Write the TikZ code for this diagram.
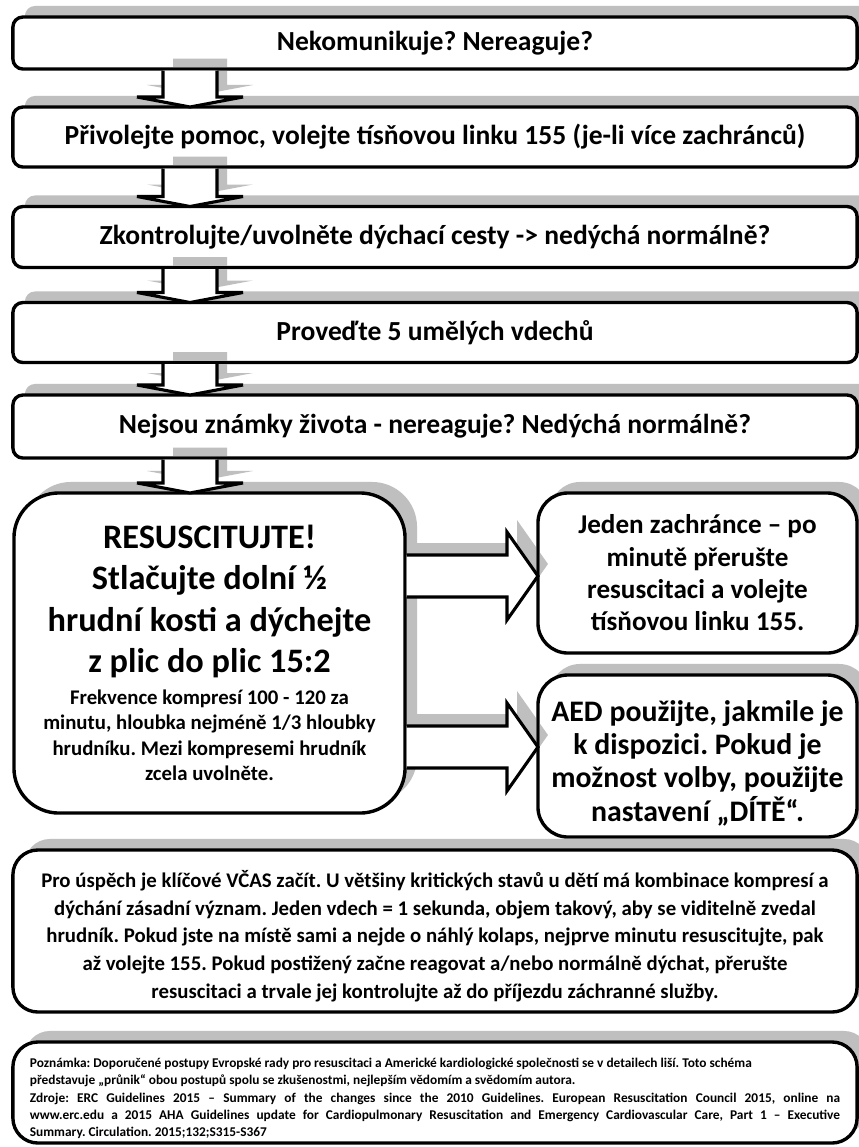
\documentclass[tikz,border=0pt]{standalone}
\usepackage{fontspec}
\setmainfont{Carlito}
\frenchspacing
\usetikzlibrary{positioning,shadows,calc}

% block arrow from box #2 down to box #3
\newcommand{\dropblock}[3][]{%
  \path[#1] ($(163,0 |- #2.south)+(0,1.5)$) -- ($(163,0 |- #3.north)+(0,-10)$) -- ++(-26,0)
    -- (190,0 |- #3.north) -- ($(243,0 |- #3.north)+(0,-10)$) -- ++(-26,0)
    -- ($(217,0 |- #2.south)+(0,1.5)$);}
% block arrow from box #2 right to box #3, centred at height #4
\newcommand{\pushblock}[4][]{%
  \path[#1] ($(#2.east |- 0,#4-21)+(1.5,0)$) -- (507,#4-21) -- (507,#4-44) -- (#3.west |- 0,#4)
    -- (507,#4+44) -- (507,#4+21) -- ($(#2.east |- 0,#4+21)+(1.5,0)$);}

\begin{document}
\begin{tikzpicture}[
    x=0.025cm, y=-0.025cm,
    castshadow/.style={general shadow={shadow xshift=0.3cm, shadow yshift=0.275cm, draw=none, fill=black!25}},
    stepbox/.style={draw, line width=2.4pt, rounded corners=0.25cm, fill=white, castshadow,
      inner sep=0pt, outer sep=0pt, minimum width=21.1cm, align=center,
      font=\bfseries\fontsize{19.6pt}{23pt}\selectfont},
    bigbox/.style={stepbox, rounded corners=1.125cm, minimum width=9.775cm, minimum height=8cm,
      text width=9.6cm, align=flush center, font=\bfseries},
    sidebox/.style={stepbox, rounded corners=0.75cm, minimum width=7.975cm,
      font=\bfseries\fontsize{19.3pt}{23pt}\selectfont},
    notebox/.style={stepbox, rounded corners=0.625cm,
      font=\bfseries\fontsize{14.8pt}{19.8pt}\selectfont},
    blockarrow/.style={draw, fill=white, line width=2.2pt},
    arrowshadow/.style={fill=black!25, blend mode=darken, transform canvas={shift={(10,-12)}}}
  ]
    \useasboundingbox[fill=white] (0,0) rectangle (859,1147);

    \node[stepbox, minimum height=1.3cm] (ask) at (435,43) {Nekomunikuje? Nereaguje?};
    \node[stepbox, minimum height=1.5cm] (call) at (435,137) {Přivolejte pomoc, volejte tísňovou linku 155 (je-li více zachránců)};
    \node[stepbox, minimum height=1.525cm] (airway) at (435,237) {Zkontrolujte/uvolněte dýchací cesty -> nedýchá normálně?};
    \node[stepbox, minimum height=1.5cm] (breaths) at (435,332.5) {Proveďte 5 umělých vdechů};
    \node[stepbox, minimum height=1.575cm] (signs) at (435,426.5) {Nejsou známky života - nereaguje? Nedýchá normálně?};

    \node[bigbox] (cpr) at (209.5,653) {{\fontsize{24.4pt}{29.5pt}\selectfont RESUSCITUJTE!\\ Stlačujte dolní ½\\ hrudní kosti a dýchejte\\ z plic do plic 15:2\par}
      \vspace{4pt}{\fontsize{14.8pt}{18.2pt}\selectfont Frekvence kompresí 100 - 120 za\\ minutu, hloubka nejméně 1/3 hloubky\\ hrudníku. Mezi kompresemi hrudník\\ zcela uvolněte.\par}};
    \node[sidebox, minimum height=4cm] (alone) at (697.5,573) {Jeden zachránce – po\\ minutě přerušte\\ resuscitaci a volejte\\ tísňovou linku 155.};
    \node[sidebox, minimum height=4.05cm, font=\bfseries\fontsize{21.2pt}{23.7pt}\selectfont] (aed) at (697.5,756) {\rule{0pt}{25pt}AED použijte, jakmile je\\ k dispozici. Pokud je\\ možnost volby, použijte\\ nastavení „DÍTĚ“.};

    \node[notebox, minimum height=4.05cm] (hint) at (435,931) {\rule{0pt}{19.5pt}Pro úspěch je klíčové VČAS začít. U většiny kritických stavů u dětí má kombinace kompresí a\\
      dýchání zásadní význam. Jeden vdech = 1 sekunda, objem takový, aby se viditelně zvedal\\
      hrudník.  Pokud jste na místě sami a nejde o náhlý kolaps, nejprve minutu resuscitujte, pak\\
      až volejte 155. Pokud postižený začne reagovat a/nebo normálně dýchat, přerušte\\
      resuscitaci a trvale jej kontrolujte až do příjezdu záchranné služby.};
    \node[notebox, minimum height=2.525cm, text width=20.25cm, align=justify,
      font=\bfseries\fontsize{9.5pt}{12.2pt}\selectfont] (note) at (435,1092.5) {\rule{0pt}{15pt}Poznámka: Doporučené postupy Evropské rady pro resuscitaci a Americké kardiologické společnosti se v detailech liší. Toto schéma\\
      představuje „průnik“ obou postupů spolu se zkušenostmi, nejlepším vědomím a svědomím autora.\par
      Zdroje: ERC Guidelines 2015 – Summary of the changes since the 2010 Guidelines. European Resuscitation Council 2015, online na\linebreak
      www.erc.edu a 2015 AHA Guidelines update for Cardiopulmonary Resuscitation and Emergency Cardiovascular Care, Part 1 – Executive\linebreak
      Summary. Circulation. 2015;132;S315-S367};

    % shadows of the block arrows, then the arrows
    \foreach \a/\b in {ask/call, call/airway, airway/breaths, breaths/signs, signs/cpr}
      {\dropblock[arrowshadow]{\a}{\b}}
    \pushblock[arrowshadow]{cpr}{alone}{576}
    \pushblock[arrowshadow]{cpr}{aed}{747}
    \foreach \a/\b in {ask/call, call/airway, airway/breaths, breaths/signs, signs/cpr}
      {\dropblock[blockarrow]{\a}{\b}}
    \pushblock[blockarrow]{cpr}{alone}{576}
    \pushblock[blockarrow]{cpr}{aed}{747}
\end{tikzpicture}
\end{document}
